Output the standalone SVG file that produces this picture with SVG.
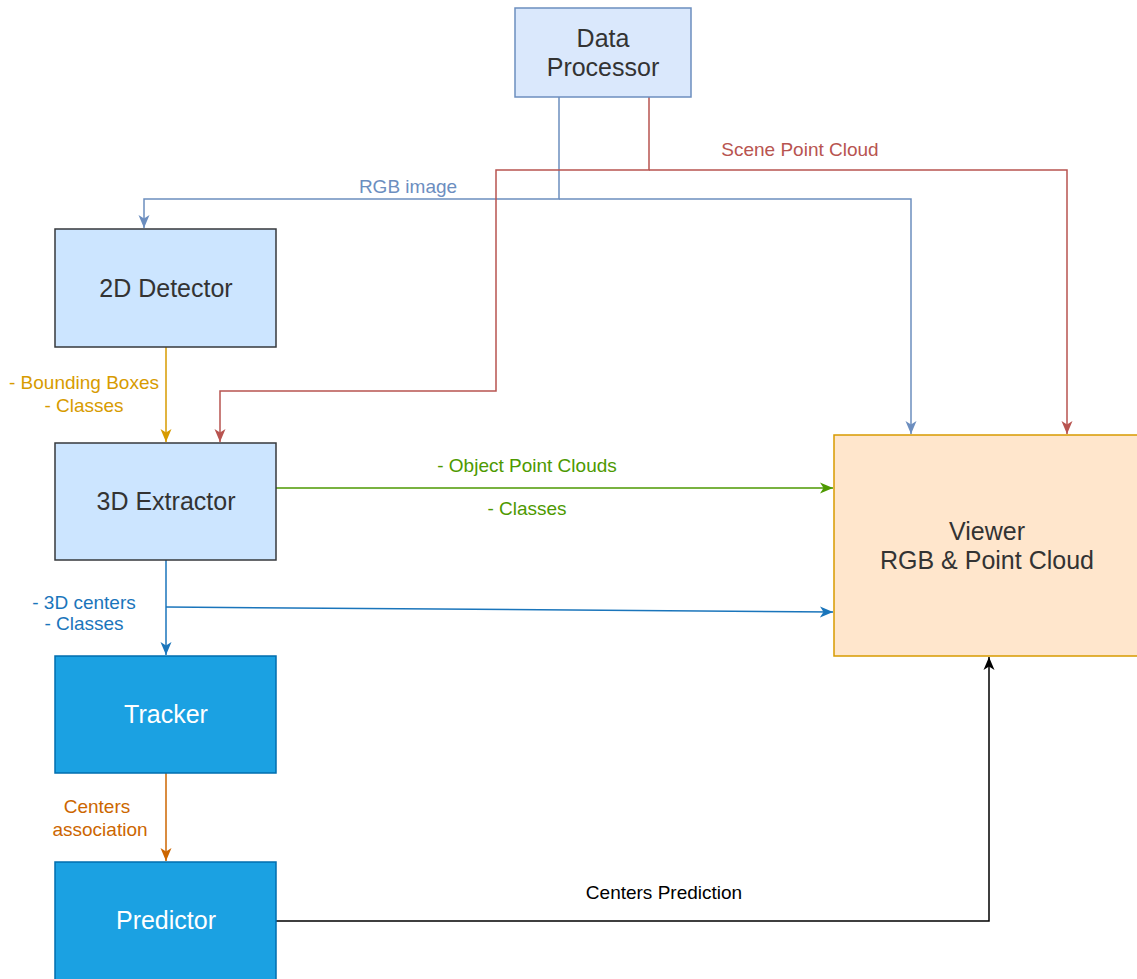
<svg xmlns="http://www.w3.org/2000/svg" width="1137" height="979" viewBox="0 0 1137 979">
<style>
.lbl{font-family:"Liberation Sans",Arial,sans-serif;font-size:25px;text-anchor:middle;fill:#333333}
.wht{fill:#ffffff}
.el{font-family:"Liberation Sans",Arial,sans-serif;font-size:19px;text-anchor:middle}
.c{fill:none;stroke-width:1.5}
</style>
<defs>
<marker id="aBlue" markerUnits="userSpaceOnUse" markerWidth="14" markerHeight="14" viewBox="0 0 14 14" refX="13" refY="7" orient="auto"><path d="M0,1.5 L13,7 L0,12.5 L3.5,7 Z" fill="#6c8ebf"/></marker>
<marker id="aRed" markerUnits="userSpaceOnUse" markerWidth="14" markerHeight="14" viewBox="0 0 14 14" refX="13" refY="7" orient="auto"><path d="M0,1.5 L13,7 L0,12.5 L3.5,7 Z" fill="#b85450"/></marker>
<marker id="aYel" markerUnits="userSpaceOnUse" markerWidth="14" markerHeight="14" viewBox="0 0 14 14" refX="13" refY="7" orient="auto"><path d="M0,1.5 L13,7 L0,12.5 L3.5,7 Z" fill="#d79b00"/></marker>
<marker id="aGrn" markerUnits="userSpaceOnUse" markerWidth="14" markerHeight="14" viewBox="0 0 14 14" refX="13" refY="7" orient="auto"><path d="M0,1.5 L13,7 L0,12.5 L3.5,7 Z" fill="#4d9900"/></marker>
<marker id="aBl2" markerUnits="userSpaceOnUse" markerWidth="14" markerHeight="14" viewBox="0 0 14 14" refX="13" refY="7" orient="auto"><path d="M0,1.5 L13,7 L0,12.5 L3.5,7 Z" fill="#1a75bb"/></marker>
<marker id="aOr" markerUnits="userSpaceOnUse" markerWidth="14" markerHeight="14" viewBox="0 0 14 14" refX="13" refY="7" orient="auto"><path d="M0,1.5 L13,7 L0,12.5 L3.5,7 Z" fill="#cc6600"/></marker>
<marker id="aBk" markerUnits="userSpaceOnUse" markerWidth="14" markerHeight="14" viewBox="0 0 14 14" refX="13" refY="7" orient="auto"><path d="M0,1.5 L13,7 L0,12.5 L3.5,7 Z" fill="#000000"/></marker>
</defs>
<rect width="1137" height="979" fill="#ffffff"/>
<g id="connectors">
<path class="c" stroke="#6c8ebf" d="M559,97 V199 H144 V228" marker-end="url(#aBlue)"/>
<path class="c" stroke="#6c8ebf" d="M559,199 H911 V434" marker-end="url(#aBlue)"/>
<path class="c" stroke="#b85450" d="M649,97 V170 H496 V391 H220 V442" marker-end="url(#aRed)"/>
<path class="c" stroke="#b85450" d="M649,170 H1067 V434" marker-end="url(#aRed)"/>
<path class="c" stroke="#d79b00" d="M166,347 V442" marker-end="url(#aYel)"/>
<path class="c" stroke="#4d9900" d="M276,488 H833" marker-end="url(#aGrn)"/>
<path class="c" stroke="#1a75bb" d="M166,560 V655" marker-end="url(#aBl2)"/>
<path class="c" stroke="#1a75bb" d="M166,607 L833,612" marker-end="url(#aBl2)"/>
<path class="c" stroke="#cc6600" d="M166,773 V861" marker-end="url(#aOr)"/>
<path class="c" stroke="#000000" d="M276,921 H989 V657" marker-end="url(#aBk)"/>
<text class="el" fill="#6c8ebf" x="408" y="193">RGB image</text>
<text class="el" fill="#b85450" x="800" y="156">Scene Point Cloud</text>
<text class="el" fill="#d79b00" x="84" y="389">- Bounding Boxes</text>
<text class="el" fill="#d79b00" x="84" y="412">- Classes</text>
<text class="el" fill="#4d9900" x="527" y="472">- Object Point Clouds</text>
<text class="el" fill="#4d9900" x="527" y="515">- Classes</text>
<text class="el" fill="#1a75bb" x="84" y="609">- 3D centers</text>
<text class="el" fill="#1a75bb" x="84" y="630">- Classes</text>
<text class="el" fill="#cc6600" x="97" y="813">Centers</text>
<text class="el" fill="#cc6600" x="100" y="836">association</text>
<text class="el" fill="#000000" x="664" y="899">Centers Prediction</text>
</g>
<g id="data-processor">
<rect x="515" y="8" width="176" height="89" fill="#dae8fc" stroke="#6c8ebf" stroke-width="1.5"/>
<text class="lbl" x="603" y="47">Data</text>
<text class="lbl" x="603" y="76">Processor</text>
</g>
<g id="detector-2d">
<rect x="55" y="229" width="221" height="118" fill="#cce5ff" stroke="#36393d" stroke-width="1.5"/>
<text class="lbl" x="166" y="297">2D Detector</text>
</g>
<g id="extractor-3d">
<rect x="55" y="443" width="221" height="117" fill="#cce5ff" stroke="#36393d" stroke-width="1.5"/>
<text class="lbl" x="166" y="510">3D Extractor</text>
</g>
<g id="tracker">
<rect x="55" y="656" width="221" height="117" fill="#1ba1e2" stroke="#006eaf" stroke-width="1.5"/>
<text class="lbl wht" x="166" y="723">Tracker</text>
</g>
<g id="predictor">
<rect x="55" y="862" width="221" height="125" fill="#1ba1e2" stroke="#006eaf" stroke-width="1.5"/>
<text class="lbl wht" x="166" y="929">Predictor</text>
</g>
<g id="viewer">
<rect x="834" y="435" width="310" height="221" fill="#ffe6cc" stroke="#d79b00" stroke-width="1.5"/>
<text class="lbl" x="987" y="540">Viewer</text>
<text class="lbl" x="987" y="569">RGB &amp; Point Cloud</text>
</g>
</svg>
